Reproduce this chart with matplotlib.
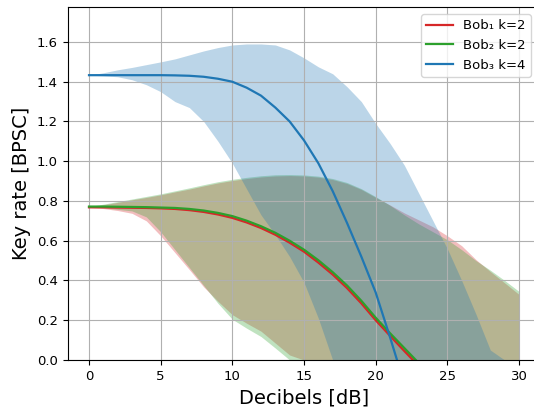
import matplotlib
matplotlib.use("Agg")
import matplotlib.pyplot as plt
import numpy as np

# Decibel grid (integer steps)
decibels = list(range(0, 31))

# Bob1 k=2 (red): mean and band
bob1_mean = [0.768, 0.768, 0.767, 0.766, 0.765, 0.763, 0.760, 0.754, 0.745, 0.732,
             0.715, 0.692, 0.664, 0.630, 0.590, 0.545, 0.490, 0.430, 0.362, 0.285,
             0.200, 0.122, 0.045, -0.030, -0.10, -0.17, -0.24, -0.31, -0.38, -0.45, -0.52]
bob1_upper = [0.768, 0.781, 0.793, 0.806, 0.818, 0.831, 0.846, 0.860, 0.876, 0.891,
              0.903, 0.913, 0.921, 0.926, 0.928, 0.926, 0.920, 0.908, 0.888, 0.858,
              0.818, 0.780, 0.740, 0.705, 0.670, 0.625, 0.575, 0.505, 0.445, 0.388, 0.330]
bob1_lower = [0.768, 0.762, 0.752, 0.738, 0.700, 0.625, 0.540, 0.455, 0.368, 0.295,
              0.228, 0.185, 0.145, 0.085, 0.025, 0.0, 0.0, 0.0, 0.0, 0.0,
              0.0, 0.0, 0.0, 0.0, 0.0, 0.0, 0.0, 0.0, 0.0, 0.0, 0.0]

# Bob2 k=2 (green)
bob2_mean = [0.772, 0.772, 0.771, 0.770, 0.769, 0.767, 0.765, 0.760, 0.752, 0.740,
             0.724, 0.701, 0.673, 0.640, 0.600, 0.555, 0.502, 0.442, 0.375, 0.298,
             0.213, 0.135, 0.060, -0.015, -0.09, -0.16, -0.23, -0.30, -0.37, -0.44, -0.51]
bob2_upper = [0.772, 0.784, 0.797, 0.810, 0.823, 0.836, 0.851, 0.866, 0.882, 0.897,
              0.909, 0.919, 0.927, 0.932, 0.933, 0.931, 0.925, 0.913, 0.893, 0.862,
              0.822, 0.778, 0.730, 0.685, 0.645, 0.605, 0.555, 0.500, 0.452, 0.400, 0.345]
bob2_lower = [0.772, 0.766, 0.758, 0.750, 0.720, 0.645, 0.555, 0.465, 0.375, 0.285,
              0.205, 0.160, 0.118, 0.060, 0.000, 0.0, 0.0, 0.0, 0.0, 0.0,
              0.0, 0.0, 0.0, 0.0, 0.0, 0.0, 0.0, 0.0, 0.0, 0.0, 0.0]

# Bob3 k=4 (blue)
bob3_mean = [1.433, 1.433, 1.433, 1.433, 1.433, 1.433, 1.432, 1.430, 1.425, 1.415,
             1.400, 1.370, 1.330, 1.270, 1.200, 1.105, 0.990, 0.850, 0.690, 0.520,
             0.340, 0.115, -0.120, -0.35, -0.58, -0.81, -1.04, -1.27, -1.50, -1.73, -1.96]
bob3_upper = [1.433, 1.445, 1.460, 1.472, 1.486, 1.500, 1.515, 1.535, 1.555, 1.572,
              1.585, 1.590, 1.590, 1.585, 1.560, 1.520, 1.475, 1.440, 1.375, 1.300,
              1.190, 1.090, 0.980, 0.840, 0.700, 0.560, 0.400, 0.230, 0.050, 0.0, 0.0]
bob3_lower = [1.433, 1.430, 1.425, 1.410, 1.385, 1.350, 1.300, 1.270, 1.200, 1.100,
              0.990, 0.860, 0.730, 0.630, 0.520, 0.390, 0.210, 0.000, 0.0, 0.0,
              0.0, 0.0, 0.0, 0.0, 0.0, 0.0, 0.0, 0.0, 0.0, 0.0, 0.0]

series = [
    ("Bob\u2081 k=2", "tab:red", bob1_mean, bob1_lower, bob1_upper),
    ("Bob\u2082 k=2", "tab:green", bob2_mean, bob2_lower, bob2_upper),
    ("Bob\u2083 k=4", "tab:blue", bob3_mean, bob3_lower, bob3_upper),
]

fig = plt.figure(figsize=(5.34, 4.08), dpi=100)
# axes run past the right edge, like the cropped original
ax = fig.add_axes([67.5 / 534, 1 - 360 / 408, 473 / 534, 353 / 408])

for label, color, mean, lower, upper in series:
    ax.fill_between(decibels, lower, upper, color=color, alpha=0.3, linewidth=0)
for label, color, mean, lower, upper in series:
    ax.plot(decibels, mean, color=color, linewidth=1.6, label=label)

ax.set_xlim(-1.5, 31.5)
ax.set_ylim(0, 1.776)
ax.set_xticks([0, 5, 10, 15, 20, 25, 30])
ax.set_yticks(np.arange(0, 1.61, 0.2))
ax.tick_params(labelsize=9.5)
ax.spines["right"].set_visible(False)
ax.grid(True)
ax.set_xlabel("Decibels [dB]", fontsize=14)
ax.set_ylabel("Key rate [BPSC]", fontsize=14)
ax.legend(loc="upper right", bbox_to_anchor=(0.98, 0.98), borderaxespad=0,
          fontsize=9.5)

fig.savefig("out.png", dpi=100)
